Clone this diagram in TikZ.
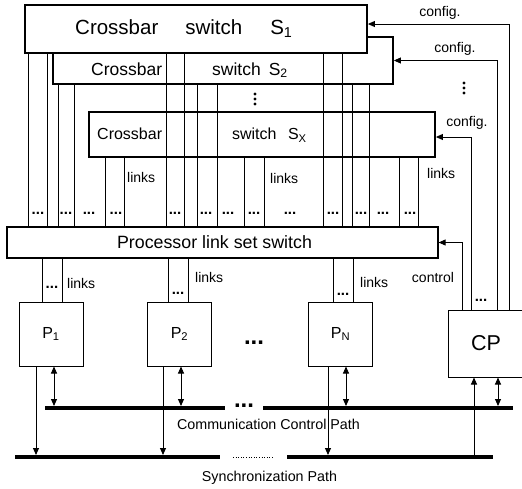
\documentclass[tikz,border=0pt]{standalone}
\usepackage{fontspec}
\setmainfont{Liberation Sans}
\usetikzlibrary{arrows.meta,positioning,calc}
\tikzset{
    xbar/.style={rectangle, draw, line width=1.8pt, fill=white, inner sep=0pt},
    plainbox/.style={rectangle, draw, line width=1pt, fill=white, inner sep=0pt},
    link/.style={line width=0.9pt},
    arr/.style={line width=0.9pt, -{Triangle[length=7pt,width=6pt]}},
    darr/.style={line width=0.9pt, {Triangle[length=7pt,width=6pt]}-{Triangle[length=7pt,width=6pt]}},
    bus/.style={line width=4.5pt},
    lbl/.style={font=\fontsize{14}{16}\selectfont, inner sep=0pt},
    ldots/.style={font=\fontsize{15}{15}\selectfont\bfseries, inner sep=0pt},
    bigdots/.style={font=\fontsize{24}{24}\selectfont\bfseries, inner sep=0pt},
}

\begin{document}
\begin{tikzpicture}[x=1pt,y=-1pt]
    \useasboundingbox (0,0) rectangle (522,488);
    \node[xbar, minimum width=346pt, minimum height=45pt] (Sx) at (262,134.5) {};
    \node[xbar, minimum width=340pt, minimum height=47pt] (S2) at (223,60.5) {};
    \node[xbar, minimum width=342pt, minimum height=48pt] (S1) at (196,29) {};
    \node[anchor=west, inner sep=0pt, font=\fontsize{20.5}{24}\selectfont] (tS1) at (75,29) {Crossbar\hspace{27pt}switch\hspace{28pt}S\textsubscript{1}};
    \node[anchor=west, inner sep=0pt, font=\fontsize{17.5}{20}\selectfont] (tS2) at (91,70) {Crossbar\hspace{50pt}switch\hspace{8pt}S\textsubscript{2}};
    \node[anchor=west, inner sep=0pt, font=\fontsize{16}{18}\selectfont] (tSx) at (97,135) {Crossbar\hspace{70pt}switch\hspace{11.5pt}S\textsubscript{X}};
    \coordinate (vd1) at (255,99);
    \foreach \dy in {-5,0,5}
        \fill ([yshift=\dy pt]vd1) circle (1.7pt);

    \node[plainbox, line width=1.2pt, minimum width=431pt, minimum height=31pt] (PLS) at (222.5,242.5) {};
    \node[font=\fontsize{17.8}{20}\selectfont, inner sep=0pt] (tPLS) at (214.5,242) {Processor link set switch};

    \foreach \x in {28,47,166,184,323,342}
        \draw[link] (S1.south -| \x,0) -- (PLS.north -| \x,0);
    \foreach \x in {58,74,197,217,352,369}
        \draw[link] (S2.south -| \x,0) -- (PLS.north -| \x,0);
    \foreach \x in {105,124,244,264,399,418}
        \draw[link] (Sx.south -| \x,0) -- (PLS.north -| \x,0);
    \foreach \x in {38,66,89,116,175,206,228,254,290,333,361,383,410}
        \node[ldots] (d\x) at (\x,213) {...};
    \node[lbl, anchor=west] (lk1) at (127,177) {links};
    \node[lbl, anchor=west] (lk2) at (270,178) {links};
    \node[lbl, anchor=west] (lk3) at (427,173) {links};

    \node[plainbox, minimum size=64pt, font=\fontsize{16}{18}\selectfont] (P1) at (51,334) {P\textsubscript{1}};
    \node[plainbox, minimum size=64pt, font=\fontsize{16}{18}\selectfont] (P2) at (179.5,334) {P\textsubscript{2}};
    \node[plainbox, minimum size=64pt, font=\fontsize{16}{18}\selectfont] (PN) at (340.5,334) {P\textsubscript{N}};
    \node[bigdots] (pdots) at (254,343) {...};
    \node[plainbox, minimum width=76pt, minimum height=67pt, font=\fontsize{21.5}{24}\selectfont] (CP) at (486,343.5) {CP};

    \foreach \p/\a/\b in {P1/42/62, P2/168/188, PN/333/353} {
        \draw[link] (PLS.south -| \a,0) -- (\p.north -| \a,0);
        \draw[link] (PLS.south -| \b,0) -- (\p.north -| \b,0);
    }
    \node[ldots] (pd1) at (52,287) {...};
    \node[ldots] (pd2) at (178,293) {...};
    \node[ldots] (pd3) at (343,294) {...};
    \node[lbl, anchor=west] (lk4) at (67,283) {links};
    \node[lbl, anchor=west] (lk5) at (195,277) {links};
    \node[lbl, anchor=west] (lk6) at (360,282) {links};

    \draw[arr] (CP.north -| 462,0) |- (PLS.east);
    \draw[arr] (CP.north -| 471,0) |- ([yshift=-2.5pt]Sx.east);
    \draw[arr] (CP.north -| 497,0) |- (S2.east);
    \draw[arr] (CP.north -| 509,0) |- ([yshift=5pt]S1.east);
    \node[ldots] (cd) at (481,300) {...};
    \coordinate (vd2) at (464,88);
    \foreach \dy in {-5,0,5}
        \fill ([yshift=\dy pt]vd2) circle (1.7pt);
    \node[lbl] (cf1) at (440,13) {config.};
    \node[lbl] (cf2) at (455,49) {config.};
    \node[lbl] (cf3) at (467,123) {config.};
    \node[lbl] (ctl) at (433,277) {control};

    \coordinate (comm) at (0,408);
    \coordinate (sync) at (0,457);
    \coordinate (cbA) at (45,408);
    \coordinate (cbB) at (225,408);
    \coordinate (cbC) at (263,408);
    \coordinate (cbD) at (513,408);
    \coordinate (sbA) at (15,457);
    \coordinate (sbB) at (220,457);
    \coordinate (sbC) at (287,457);
    \coordinate (sbD) at (493,457);
    \draw[bus] (cbA) -- (cbB);
    \draw[bus] (cbC) -- (cbD);
    \node[bigdots] (cdots) at (244,406) {...};
    \draw[bus] (sbA) -- (sbB);
    \draw[bus] (sbC) -- (sbD);
    \draw[dotted, line width=0.6pt] ([xshift=13pt]sbB) -- ([xshift=-14pt]sbC);
    \node[font=\fontsize{14.3}{16}\selectfont, inner sep=0pt] (tcomm) at (268.5,424) {Communication Control Path};
    \node[font=\fontsize{14.3}{16}\selectfont, inner sep=0pt] (tsync) at (269.5,478) {Synchronization Path};

    \foreach \p/\s/\c in {P1/36/54, P2/163/181, PN/328/346} {
        \draw[arr, shorten >=2pt] (\p.south -| \s,0) -- (sync -| \s,0);
        \draw[darr, shorten >=2pt] (\p.south -| \c,0) -- (comm -| \c,0);
    }
    \draw[arr] ([yshift=2pt]sync -| 474,0) -- (CP.south -| 474,0);
    \draw[darr, shorten >=2pt] (CP.south -| 498,0) -- (comm -| 498,0);
\end{tikzpicture}
\end{document}
